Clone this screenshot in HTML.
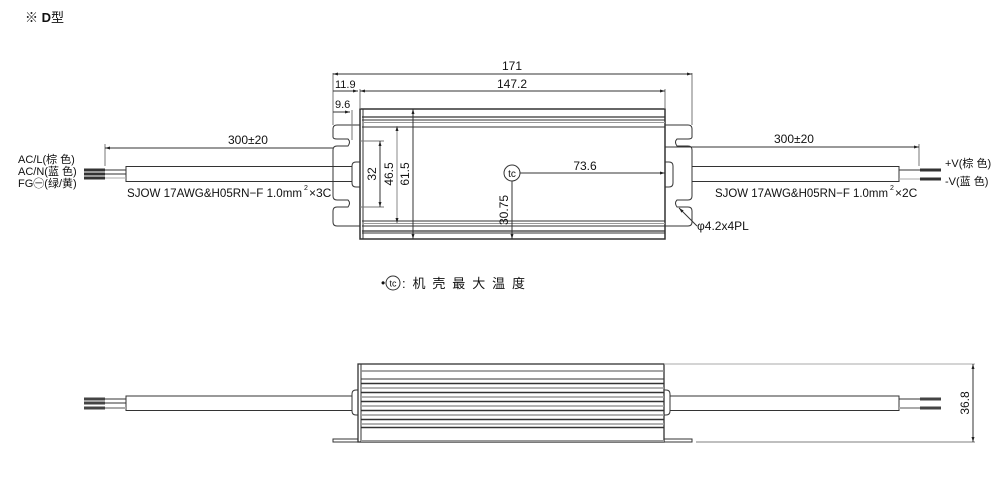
<!DOCTYPE html>
<html><head><meta charset="utf-8"><style>
html,body{margin:0;padding:0;background:#fff;}
svg{display:block;font-family:"Liberation Sans","Noto Sans CJK SC",sans-serif;}
text{fill:#111;}
</style></head><body>
<svg width="1001" height="495" viewBox="0 0 1001 495" xmlns="http://www.w3.org/2000/svg">
<defs>
<marker id="a" viewBox="0 0 10 10" refX="10" refY="5" markerWidth="6" markerHeight="5" orient="auto-start-reverse"><path d="M0,2 L10,5 L0,8z" fill="#222"/></marker>
</defs>
<text x="25" y="22" font-size="13">※ <tspan font-weight="bold">D</tspan>型</text>

<!-- TOP VIEW -->
<g stroke="#333" fill="none" stroke-width="1">
<path d="M360,125 H337 Q333,125 333,129 V137 Q333,139 337,139 H348 Q351,142 348,146 H337 Q333,146 333,150 V196 Q333,200 337,200 H348 Q351,203 348,207 H337 Q333,207 333,211 V222 Q333,226 337,226 H360"/>
<path d="M360,162 H356 Q352,162 352,166 V183 Q352,187 356,187 H360"/>
<path d="M665,125 H688 Q692,125 692,129 V137 Q692,139 688,139 H677 Q674,142 677,146 H688 Q692,146 692,150 V196 Q692,200 688,200 H677 Q674,203 677,207 H688 Q692,207 692,211 V222 Q692,226 688,226 H665"/>
<path d="M665,162 H669 Q673,162 673,166 V183 Q673,187 669,187 H665"/>
<rect x="360" y="109" width="305" height="130" stroke-width="1.5"/>
<line x1="363" y1="109" x2="363" y2="239"/>
<line x1="362" y1="117" x2="665" y2="117" stroke-width="1.3"/>
<line x1="362" y1="120" x2="665" y2="120"/>
<line x1="362" y1="122.5" x2="665" y2="122.5" stroke="#999"/>
<line x1="362" y1="127" x2="665" y2="127"/>
<line x1="362" y1="221" x2="665" y2="221"/>
<line x1="362" y1="223.5" x2="665" y2="223.5" stroke="#999"/>
<line x1="362" y1="226" x2="665" y2="226"/>
<line x1="362" y1="231" x2="665" y2="231" stroke-width="1.3"/>
<line x1="362" y1="233" x2="665" y2="233"/>
<rect x="126" y="166.5" width="226" height="15"/>
<rect x="692" y="166.5" width="207" height="15"/>
<line x1="105" y1="170" x2="126" y2="170"/><line x1="105" y1="174" x2="126" y2="174"/><line x1="105" y1="178" x2="126" y2="178" stroke="#aaa"/>
<line x1="899" y1="170" x2="920" y2="170"/><line x1="899" y1="179" x2="920" y2="179" stroke="#aaa"/>
<line x1="333" y1="73" x2="333" y2="125" stroke="#777"/>
<line x1="692" y1="73" x2="692" y2="125" stroke="#777"/>
<line x1="665" y1="89" x2="665" y2="109" stroke="#777"/>
<line x1="360" y1="89" x2="360" y2="109" stroke="#777"/>
<line x1="352" y1="110" x2="352" y2="140" stroke="#777"/>
<line x1="333" y1="74" x2="692" y2="74" marker-start="url(#a)" marker-end="url(#a)"/>
<line x1="360" y1="91" x2="665" y2="91" marker-start="url(#a)" marker-end="url(#a)"/>
<line x1="333" y1="91" x2="358" y2="91" marker-end="url(#a)"/>
<line x1="333" y1="112" x2="350" y2="112" marker-end="url(#a)"/>
<line x1="360" y1="141" x2="384" y2="141" stroke="#777"/>
<line x1="360" y1="207" x2="384" y2="207" stroke="#777"/>
<line x1="380" y1="141" x2="380" y2="207" marker-start="url(#a)" marker-end="url(#a)"/>
<line x1="397" y1="126" x2="397" y2="223" stroke="#888" marker-start="url(#a)" marker-end="url(#a)"/>
<line x1="413" y1="109" x2="413" y2="239" marker-start="url(#a)" marker-end="url(#a)"/>
<circle cx="512" cy="173" r="8"/>
<line x1="520" y1="173" x2="665" y2="173" marker-end="url(#a)"/>
<line x1="512" y1="181" x2="512" y2="239" marker-end="url(#a)"/>
<line x1="105" y1="144" x2="105" y2="166" stroke="#777"/>
<line x1="105" y1="148" x2="333" y2="148" marker-start="url(#a)"/>
<line x1="919" y1="144" x2="919" y2="166" stroke="#777"/>
<line x1="665" y1="147" x2="919" y2="147" marker-end="url(#a)"/>
<line x1="697" y1="226" x2="679" y2="208" marker-end="url(#a)"/>
</g>
<g fill="#333">
<rect x="84" y="168.5" width="21" height="3"/><rect x="84" y="172.5" width="21" height="3"/><rect x="84" y="176.5" width="21" height="3"/>
<rect x="920" y="168.5" width="21" height="3"/><rect x="920" y="177.5" width="21" height="3"/>
</g>
<g font-size="12">
<text x="512" y="70" text-anchor="middle">171</text>
<text x="512" y="88" text-anchor="middle">147.2</text>
<text x="335" y="88" font-size="11">11.9</text>
<text x="335" y="108" font-size="11">9.6</text>
<text x="228" y="144">300±20</text>
<text x="774" y="143">300±20</text>
<text x="585" y="170" text-anchor="middle">73.6</text>
<text x="512" y="177" text-anchor="middle" font-size="10">tc</text>
<text transform="translate(376,174) rotate(-90)" text-anchor="middle">32</text>
<text transform="translate(393,174) rotate(-90)" text-anchor="middle">46.5</text>
<text transform="translate(409,174) rotate(-90)" text-anchor="middle">61.5</text>
<text transform="translate(508,210) rotate(-90)" text-anchor="middle">30.75</text>
<text x="18" y="163" font-size="11">AC/L(棕 色)</text>
<text x="18" y="175" font-size="11">AC/N(蓝 色)</text>
<text x="18" y="187" font-size="11">FG㊀(绿/黄)</text>
<text x="945" y="167" font-size="11">+V(棕 色)</text>
<text x="945" y="185" font-size="11">-V(蓝 色)</text>
<text x="127" y="197" textLength="175" lengthAdjust="spacingAndGlyphs">SJOW 17AWG&amp;H05RN−F  1.0mm</text>
<text x="304" y="190" font-size="7">2</text>
<text x="309" y="197">×3C</text>
<text x="715" y="197" textLength="173" lengthAdjust="spacingAndGlyphs">SJOW 17AWG&amp;H05RN−F  1.0mm</text>
<text x="890" y="190" font-size="7">2</text>
<text x="895" y="197">×2C</text>
<text x="697" y="230">φ4.2x4PL</text>
<text x="381" y="287">•</text>
<text x="402" y="288" textLength="123" lengthAdjust="spacing" font-size="13">: 机 壳 最 大 温 度</text>
<text transform="translate(969,403) rotate(-90)" text-anchor="middle">36.8</text>
</g>
<circle cx="393" cy="283" r="7" fill="none" stroke="#333"/>
<text x="393" y="286.5" font-size="9" text-anchor="middle">tc</text>

<!-- BOTTOM VIEW -->
<g stroke="#333" fill="none" stroke-width="1">
<rect x="358" y="364" width="306" height="78" stroke-width="1.3"/>
<line x1="361" y1="364" x2="361" y2="442"/>
<line x1="361" y1="371" x2="664" y2="371" stroke="#888" stroke-width="1.5"/>
<line x1="361" y1="379" x2="664" y2="379"/>
<g stroke-width="1.5">
<line x1="361" y1="383.5" x2="664" y2="383.5"/><line x1="361" y1="388" x2="664" y2="388" stroke="#999"/>
<line x1="361" y1="392.5" x2="664" y2="392.5"/><line x1="361" y1="397" x2="664" y2="397" stroke="#999"/>
<line x1="361" y1="401.5" x2="664" y2="401.5"/><line x1="361" y1="406" x2="664" y2="406" stroke="#999"/>
<line x1="361" y1="410.5" x2="664" y2="410.5"/><line x1="361" y1="415" x2="664" y2="415" stroke="#999"/>
<line x1="361" y1="419.5" x2="664" y2="419.5"/><line x1="361" y1="424" x2="664" y2="424" stroke="#999"/>
<line x1="361" y1="427.5" x2="664" y2="427.5"/>
</g>
<line x1="361" y1="441" x2="664" y2="441" stroke="#999" stroke-width="2"/>
<path d="M358,439 H333 V442 H358"/>
<path d="M664,439 H692 V442 H664"/>
<path d="M358,390 H356 Q352,390 352,394 V411 Q352,415 356,415 H358"/>
<path d="M664,390 H666 Q670,390 670,394 V411 Q670,415 666,415 H664"/>
<rect x="126" y="396" width="226" height="14.5"/>
<rect x="670" y="396" width="229" height="14.5"/>
<line x1="105" y1="399" x2="126" y2="399"/><line x1="105" y1="403" x2="126" y2="403"/><line x1="105" y1="408" x2="126" y2="408" stroke="#aaa" stroke-width="2"/>
<line x1="899" y1="399" x2="920" y2="399"/><line x1="899" y1="408" x2="920" y2="408" stroke="#aaa" stroke-width="2"/>
<line x1="664" y1="364" x2="975" y2="364" stroke="#aaa"/>
<line x1="696" y1="442" x2="975" y2="442" stroke="#aaa" stroke-width="1.5"/>
<line x1="973" y1="364" x2="973" y2="442" marker-start="url(#a)" marker-end="url(#a)"/>
</g>
<g fill="#444">
<rect x="84" y="397.5" width="21" height="3"/><rect x="84" y="401.5" width="21" height="3"/><rect x="84" y="406.5" width="21" height="3"/>
<rect x="920" y="397.5" width="21" height="3"/><rect x="920" y="406.5" width="21" height="3"/>
</g>
</svg>
</body></html>
